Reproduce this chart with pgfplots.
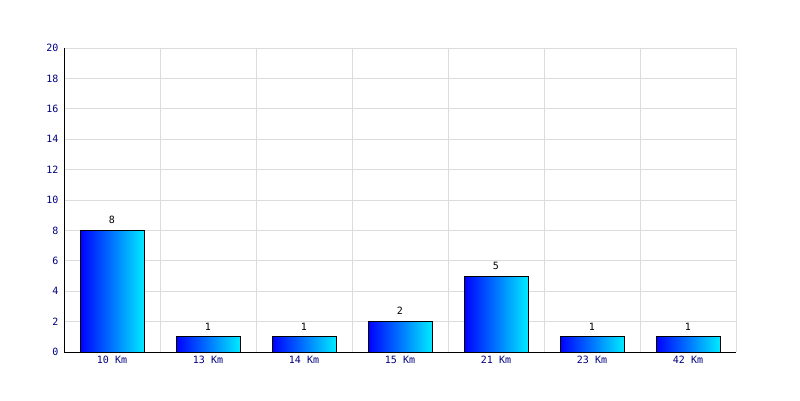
\documentclass[border=0pt]{standalone}
\usepackage{pgfplots}
\pgfplotsset{compat=1.18}
\usepackage{fontspec}
\setmainfont{DejaVu Sans Mono}
\definecolor{ticknavy}{RGB}{0,0,128}
\definecolor{gridgray}{RGB}{220,220,220}
\definecolor{barleft}{RGB}{0,0,255}
\definecolor{barright}{RGB}{0,235,255}
\pgfplotsset{
  gradbar/.style={ybar, bar width=64pt, bar shift=0pt, draw=black, line width=0.8pt,
    left color=barleft, right color=barright,
    nodes near coords,
    every node near coord/.append style={font=\fontsize{10}{12}\selectfont, text=black, yshift=3pt}},
}
\begin{document}
\begin{tikzpicture}[x=1pt,y=1pt]
\path[use as bounding box] (0,0) rectangle (800,400);
\begin{axis}[
  at={(64pt,48pt)}, anchor=south west,
  scale only axis, width=672pt, height=304pt,
  xmin=-0.5, xmax=6.5, ymin=0, ymax=20,
  axis lines=left,
  axis line style={-, black, line width=1pt},
  xtick={0,...,6},
  xticklabels={10 Km,13 Km,14 Km,15 Km,21 Km,23 Km,42 Km},
  minor xtick={0.5,1.5,...,6.5},
  ytick={0,2,...,20},
  xmajorgrids=false, xminorgrids=true, ymajorgrids=true,
  grid style={gridgray, line width=1pt},
  minor grid style={gridgray, line width=1pt},
  major tick length=0pt, minor tick length=0pt,
  tick label style={font=\fontsize{10}{12}\selectfont, text=ticknavy},
  /pgf/number format/assume math mode=true,
  xticklabel style={yshift=-1pt},
  yticklabel style={xshift=-2pt},
  clip=false,
]
% one plot per distance so that each bar carries its own gradient
\addplot[gradbar] coordinates {(0,8)};
\addplot[gradbar] coordinates {(1,1)};
\addplot[gradbar] coordinates {(2,1)};
\addplot[gradbar] coordinates {(3,2)};
\addplot[gradbar] coordinates {(4,5)};
\addplot[gradbar] coordinates {(5,1)};
\addplot[gradbar] coordinates {(6,1)};
\end{axis}
\end{tikzpicture}
\end{document}
